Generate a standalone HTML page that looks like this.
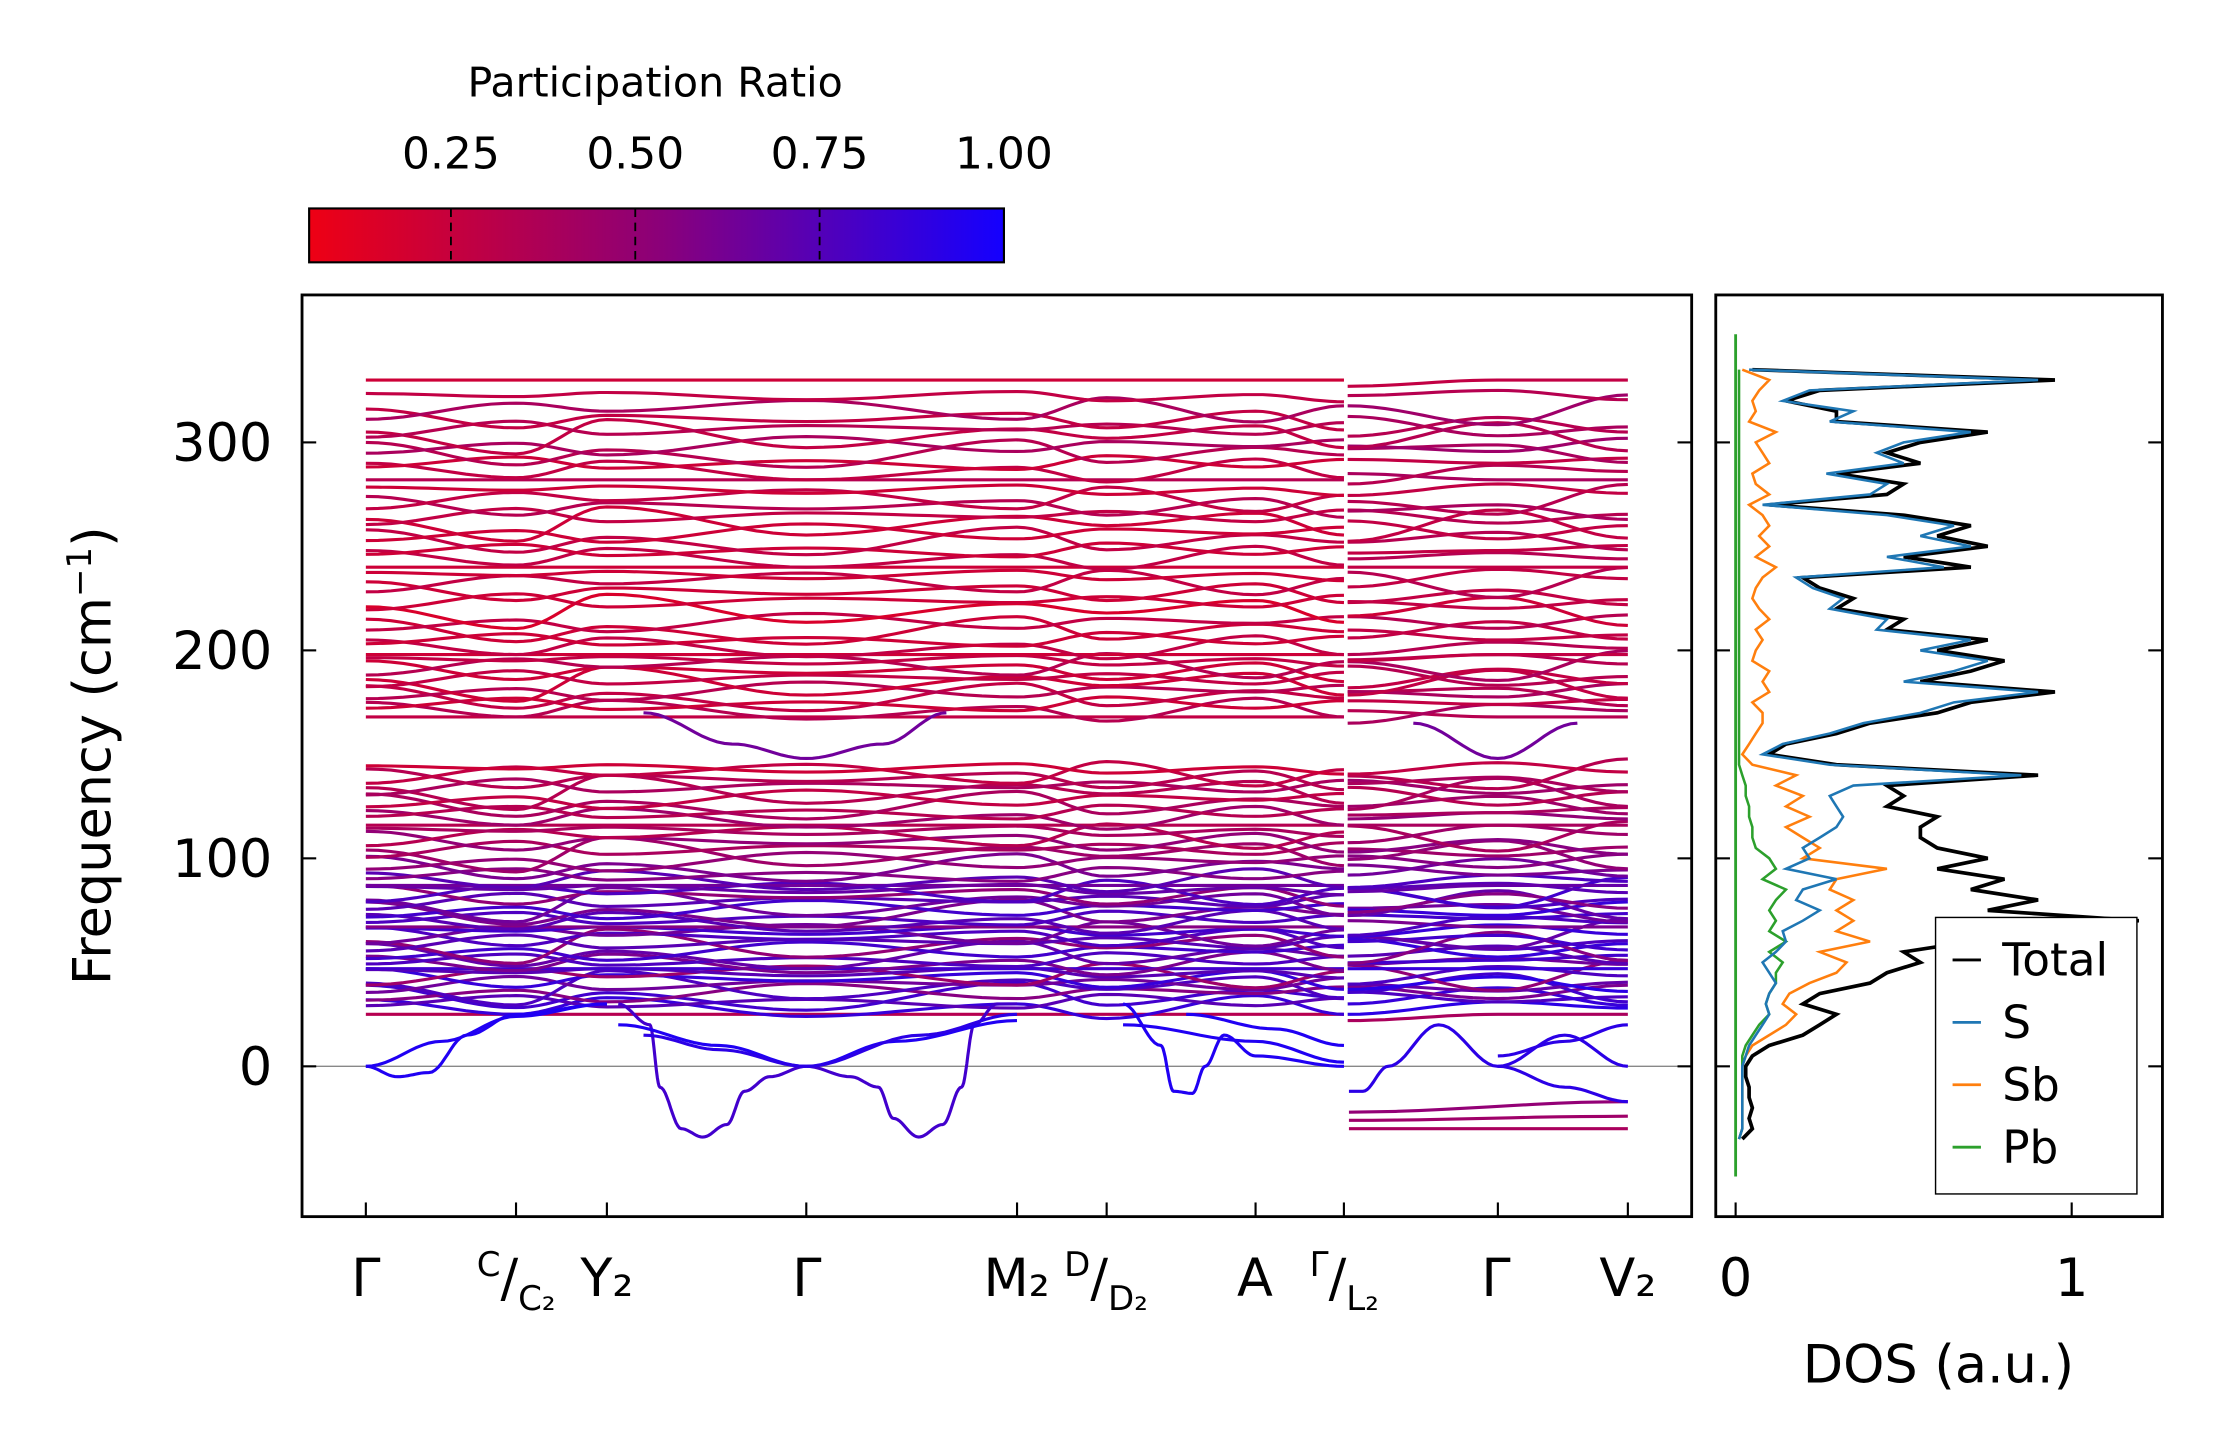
<!DOCTYPE html>
<html><head><meta charset="utf-8"><style>
html,body{margin:0;padding:0;background:#fff}
svg{display:block;font-family:"DejaVu Sans","Liberation Sans",sans-serif}
</style></head><body>
<svg id="fig" width="2222" height="1455" viewBox="0 0 1567 1026.1" xmlns="http://www.w3.org/2000/svg">
<defs>
<linearGradient id="cbg" x1="0" x2="1" y1="0" y2="0">
<stop offset="0" stop-color="rgb(238,0,20)"/><stop offset="0.5" stop-color="rgb(140,0,120)"/><stop offset="1" stop-color="rgb(20,0,255)"/>
</linearGradient>
<clipPath id="mainclip"><rect x="213" y="208" width="980" height="650"/></clipPath>
<clipPath id="dosclip"><rect x="1210" y="208" width="315" height="650"/></clipPath>
</defs>
<g id="cbar">
<text x="462" y="68" font-size="29" text-anchor="middle">Participation Ratio</text>
<rect x="218" y="147" width="490" height="38" fill="url(#cbg)" stroke="#000" stroke-width="1.5"/>
</g>
<g id="main"></g>
<g id="dos"></g>
</svg>
<script>
const NS="http://www.w3.org/2000/svg";
// ---- data ----
const kLabels=["Γ","C/C₂","Y₂","Γ","M₂","D/D₂","A","Γ/L₂","Γ","V₂"];
const kNodes=[0,0.119,0.191,0.349,0.516,0.587,0.705,0.775,0.897,1.0];
const yTicks=[0,100,200,300];
const cbarTicks=[0.25,0.5,0.75,1.0];
const flatLevels=[25,28,31,33,35,37,39,41,43,45,47,49,51,53,55,57,59,61,63,65,67,69,71,73,75,77,79,81,83,85,87,89,92,95,98,101,104,107,110,113,116,119,122,125,128,131,134,137,140,143,
168,171,174,177,180,183,186,189,192,195,198,201,205,209,213,218,223,227,232,236,240,244,248,252,256,260,264,268,272,277,282,286,290,294,298,302,306,310,315,322,330];
const flatPR=[0.3,0.85,0.7,0.8,0.5,0.75,0.6,0.85,0.4,0.7,0.8,0.55,0.75,0.65,0.8,0.45,0.7,0.75,0.6,0.8,0.5,0.7,0.75,0.55,0.8,0.6,0.7,0.45,0.75,0.65,0.6,0.7,0.5,0.55,0.45,0.4,0.35,0.45,0.3,0.35,0.3,0.4,0.3,0.35,0.25,0.3,0.35,0.3,0.25,0.2,
0.25,0.3,0.2,0.25,0.3,0.2,0.25,0.2,0.3,0.25,0.2,0.25,0.2,0.2,0.25,0.15,0.2,0.2,0.25,0.2,0.2,0.25,0.2,0.25,0.2,0.2,0.25,0.3,0.25,0.2,0.3,0.25,0.2,0.3,0.35,0.25,0.3,0.25,0.35,0.25,0.2];
const wiggle=[0,4,-3,5,-4,2,-5,6,-3,3];
const wiggleAmp=[0,1,0.6,1.2,0.8,1.5,0.7,1,1.3,0.5];
const softK=[
 [0,0.025,0.05,0.08,0.119,0.191],
 [0.2,0.225,0.233,0.25,0.267,0.286,0.3,0.32,0.349],
 [0.349,0.384,0.406,0.418,0.438,0.457,0.472,0.482,0.5,0.516],
 [0.6,0.63,0.64,0.655,0.665,0.68,0.705,0.775],
 [0.779,0.79,0.81,0.85,0.897,0.95,1.0],
 [0.779,1.0],[0.779,1.0],[0.779,1.0],
 [0.897,0.95,1.0],[0.897,0.95,1.0],
 [0.349,0.42,0.516],[0.349,0.28,0.2],[0.349,0.44,0.516],[0.22,0.28,0.349],
 [0.22,0.29,0.349,0.41,0.46],[0.83,0.897,0.96],
 [0,0.06,0.119,0.191],[0.6,0.705,0.775],[0.65,0.72,0.775]
];
const softF=[
 [0,-5,-3,15,25,30],
 [30,20,-10,-30,-34,-28,-12,-5,0],
 [0,-5,-10,-25,-34,-28,-10,20,30,30],
 [30,10,-12,-13,0,15,5,0],
 [-12,-12,0,20,0,15,0],
 [-22,-17],[-30,-30],[-26,-24],
 [0,-10,-17],[5,12,20],
 [0,12,22],[0,10,20],[0,15,25],[15,8,0],
 [170,155,148,155,170],[165,148,165],
 [0,12,24,30],[20,12,2],[25,18,10]
];
const softPR=[0.95,0.8,0.8,0.95,0.9,0.45,0.35,0.4,0.9,0.9,0.95,0.95,0.9,0.9,0.6,0.6,0.95,0.95,0.95];
const dosF0=-35, dosStep=5;
const dosTotal=[0.02,0.05,0.04,0.05,0.04,0.04,0.03,0.03,0.05,0.1,0.2,0.25,0.3,0.2,0.25,0.4,0.45,0.55,0.5,0.7,0.65,1.2,0.75,0.9,0.7,0.8,0.6,0.75,0.6,0.55,0.55,0.6,0.45,0.5,0.45,0.9,0.3,0.1,0.15,0.3,0.4,0.6,0.7,0.95,0.55,0.7,0.8,0.6,0.75,0.45,0.5,0.3,0.35,0.25,0.2,0.7,0.5,0.75,0.6,0.7,0.5,0.1,0.45,0.5,0.3,0.55,0.45,0.55,0.75,0.3,0.3,0.15,0.25,0.95,0.05];
const dosS=[0.01,0.02,0.02,0.02,0.02,0.02,0.02,0.02,0.03,0.04,0.06,0.08,0.1,0.09,0.1,0.12,0.1,0.08,0.12,0.15,0.14,0.2,0.25,0.18,0.2,0.3,0.15,0.22,0.2,0.25,0.3,0.32,0.3,0.28,0.35,0.85,0.28,0.08,0.14,0.28,0.38,0.55,0.65,0.9,0.5,0.65,0.75,0.55,0.7,0.42,0.45,0.28,0.32,0.23,0.18,0.62,0.45,0.7,0.55,0.65,0.45,0.08,0.4,0.45,0.27,0.5,0.42,0.5,0.7,0.28,0.35,0.14,0.22,0.9,0.04];
const dosSb=[0.01,0.02,0.02,0.02,0.02,0.02,0.02,0.02,0.03,0.05,0.1,0.15,0.18,0.14,0.16,0.22,0.3,0.33,0.25,0.4,0.3,0.35,0.3,0.35,0.28,0.3,0.45,0.2,0.25,0.2,0.15,0.22,0.15,0.2,0.12,0.18,0.05,0.02,0.04,0.06,0.08,0.08,0.05,0.1,0.08,0.1,0.05,0.06,0.08,0.06,0.1,0.07,0.05,0.06,0.08,0.12,0.06,0.1,0.07,0.1,0.08,0.04,0.1,0.06,0.05,0.1,0.08,0.06,0.12,0.04,0.06,0.05,0.07,0.1,0.02];
const dosPb=[0.01,0.02,0.02,0.02,0.02,0.02,0.02,0.02,0.02,0.03,0.05,0.07,0.1,0.09,0.1,0.12,0.12,0.14,0.1,0.15,0.1,0.12,0.1,0.12,0.15,0.08,0.12,0.1,0.06,0.05,0.05,0.04,0.04,0.03,0.03,0.02,0.01,0.01,0.01,0.01,0.01,0.01,0.01,0.01,0.01,0.01,0.01,0.01,0.01,0.01,0.01,0.01,0.01,0.01,0.01,0.01,0.01,0.01,0.01,0.01,0.01,0.01,0.01,0.01,0.01,0.01,0.01,0.01,0.01,0.01,0.01,0.01,0.01,0.01,0.01];
const dosTicks=[0,1];
// ---- axes ----
const X0=258,X1=1148;
const kx=k=>X0+(X1-X0)*k;
const fy=f=>752-f*1.4667;
const dx=v=>1224+v*237;
const cbx=v=>708-(1-v)*520;
function prColor(p){const t=Math.max(0,Math.min(1,(p-0.058)/0.942));
 const r=Math.round(238+(20-238)*t),g=0,b=Math.round(20+(255-20)*t);return `rgb(${r},${g},${b})`;}
function mk(tag,attrs,parent){const e=document.createElementNS(NS,tag);for(const a in attrs)e.setAttribute(a,attrs[a]);parent.appendChild(e);return e;}
const cbar=document.getElementById('cbar');
cbarTicks.forEach(v=>{
 const l=mk('line',{x1:cbx(v),x2:cbx(v),y1:147,y2:185,stroke:'#000','stroke-width':1.3,'stroke-dasharray':v<1?'6,4':'none'},cbar);
 
 
 const t=mk('text',{x:cbx(v),y:119,'font-size':31,'text-anchor':'middle'},cbar);t.textContent=v.toFixed(2);
 
 
});
const main=document.getElementById('main');
const bands=mk('g',{'clip-path':'url(#mainclip)'},main);


mk('line',{x1:213,x2:1193,y1:fy(0),y2:fy(0),stroke:'#888','stroke-width':1},bands);
function smoothPath(pts){let d='';pts.forEach((p,i)=>{d+=(i?'L':'M')+p[0].toFixed(1)+','+p[1].toFixed(1);});return d;}
function interp(ks,fs,n){const out=[];for(let i=0;i<ks.length-1;i++){for(let s=0;s<n;s++){const t=s/n,c=(1-Math.cos(Math.PI*t))/2;out.push([kx(ks[i]+(ks[i+1]-ks[i])*t),fy(fs[i]+(fs[i+1]-fs[i])*c)]);}}out.push([kx(ks[ks.length-1]),fy(fs[fs.length-1])]);return out;}
flatLevels.forEach((lv,i)=>{
 const amp=wiggleAmp[i%wiggleAmp.length];
 const fs=kNodes.map((k,j)=>lv+amp*wiggle[(i+j)%wiggle.length]);
 const segs=[[0,7],[7,9]];
 segs.forEach(([a,b],si)=>{
  const ks=kNodes.slice(a,b+1).map((k,ii)=>(si===1&&ii===0)?k+0.003:k);
  let f=fs.slice(a,b+1);
  if(si===1){f=f.map((v,ii)=>v+(ii===0?(i%3-1)*3:0));}
  const p=mk('path',{d:smoothPath(interp(ks,f,12)),fill:'none',stroke:prColor(flatPR[i]+(si?0.05:0)),'stroke-width':2.2},bands);
  
  
 });
});
softK.forEach((ks,i)=>{
 const p=mk('path',{d:smoothPath(interp(ks,softF[i],12)),fill:'none',stroke:prColor(softPR[i]),'stroke-width':2.2},bands);
 
 
});
const mframe=mk('rect',{x:213,y:208,width:980,height:650,fill:'none',stroke:'#000','stroke-width':2},main);


kNodes.forEach((k,i)=>{
 const l=mk('line',{x1:kx(k),x2:kx(k),y1:858,y2:848,stroke:'#000','stroke-width':1.5},main);
 
 
});
const labPos=[[258,"Γ"],[428,"Y₂"],[569,"Γ"],[717,"M₂"],[885,"A"],[1055,"Γ"],[1148,"V₂"]];
labPos.forEach(([x,s])=>{
 const t=mk('text',{x:x,y:914,'font-size':37,'text-anchor':'middle'},main);t.textContent=s;
 
 
});
[[366,"C","C₂"],[782,"D","D₂"],[950,"Γ","L₂"]].forEach(([x,a,b])=>{
 const t=mk('text',{x:x-2,y:914,'font-size':37,'text-anchor':'middle'},main);
 t.innerHTML=`<tspan font-size="24" dy="-14">${a}</tspan><tspan dy="14">/</tspan><tspan font-size="24" dy="10">${b}</tspan>`;
 
 
});
yTicks.forEach(v=>{
 mk('line',{x1:213,x2:223,y1:fy(v),y2:fy(v),stroke:'#000','stroke-width':1.5},main);
 mk('line',{x1:1183,x2:1193,y1:fy(v),y2:fy(v),stroke:'#000','stroke-width':1.5},main);
 const t=mk('text',{x:192,y:fy(v)+13,'font-size':37,'text-anchor':'end'},main);t.textContent=v;
 
 
});
const yt=mk('text',{x:0,y:0,'font-size':37,'text-anchor':'middle',transform:'translate(78,533) rotate(-90)'},main);
yt.innerHTML='Frequency (cm<tspan font-size="24" dy="-14">−1</tspan><tspan dy="14">)</tspan>';


const dos=document.getElementById('dos');
const dg=mk('g',{'clip-path':'url(#dosclip)'},dos);
function dosPath(arr){return smoothPath(arr.map((v,i)=>[dx(v),fy(dosF0+i*dosStep)]));}
[[dosSb,'#ff7f0e','dos-sb'],[dosPb,'#2ca02c','dos-pb'],[dosTotal,'#000','dos-total'],[dosS,'#1f77b4','dos-s']].forEach(([a,c,n])=>{
 const p=mk('path',{d:dosPath(a),fill:'none',stroke:c,'stroke-width':n==='dos-total'?2.6:1.8},dg);
 
 
});
mk('line',{x1:1224,x2:1224,y1:fy(-53),y2:fy(352),stroke:'#2ca02c','stroke-width':2},dg);
const dframe=mk('rect',{x:1210,y:208,width:315,height:650,fill:'none',stroke:'#000','stroke-width':2},dos);


dosTicks.forEach(v=>{
 mk('line',{x1:dx(v),x2:dx(v),y1:858,y2:848,stroke:'#000','stroke-width':1.5},dos);
 const t=mk('text',{x:dx(v),y:914,'font-size':37,'text-anchor':'middle'},dos);t.textContent=v;
 
 
});
yTicks.forEach(v=>{
 mk('line',{x1:1210,x2:1220,y1:fy(v),y2:fy(v),stroke:'#000','stroke-width':1.5},dos);
 mk('line',{x1:1515,x2:1525,y1:fy(v),y2:fy(v),stroke:'#000','stroke-width':1.5},dos);
});
const dt=mk('text',{x:1367,y:975,'font-size':37,'text-anchor':'middle'},dos);dt.textContent='DOS (a.u.)';


const lg=mk('g',{},dos);


mk('rect',{x:1365,y:647,width:142,height:195,fill:'#fff',stroke:'#000','stroke-width':1},lg);
[['Total','#000'],['S','#1f77b4'],['Sb','#ff7f0e'],['Pb','#2ca02c']].forEach(([n,c],i)=>{
 const y=677+i*44;
 const e=mk('g',{},lg);
 
 
 mk('line',{x1:1377,x2:1397,y1:y,y2:y,stroke:c,'stroke-width':2},e);
 const t=mk('text',{x:1412,y:y+11,'font-size':32},e);t.textContent=n;
});
</script>
</body></html>
